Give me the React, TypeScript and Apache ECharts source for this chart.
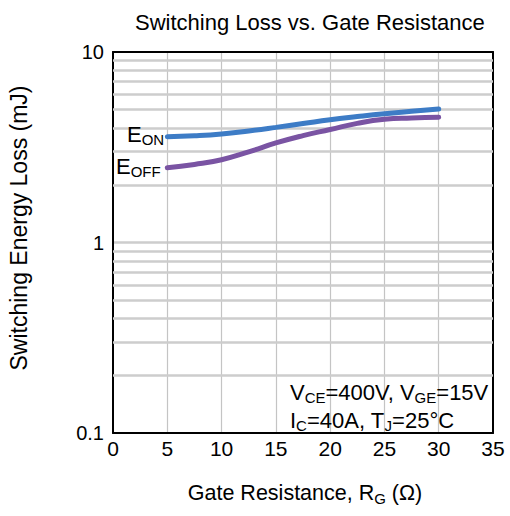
import React, { useEffect, useRef } from "react";
import * as echarts from "echarts";

const RG = [5, 7.5, 10, 12.5, 15, 17.5, 20, 22.5, 25, 27.5, 30];
const E_ON = [3.59, 3.63, 3.71, 3.85, 4.02, 4.21, 4.41, 4.58, 4.74, 4.88, 5.02];
const E_OFF = [2.47, 2.57, 2.72, 2.99, 3.33, 3.64, 3.92, 4.22, 4.43, 4.5, 4.54];
const MINOR_GRID = [0.2, 0.3, 0.4, 0.5, 0.6, 0.7, 0.8, 0.9, 2, 3, 4, 5, 6, 7, 8, 9];
const X_MIN = 0;
const X_MAX = 35;
const X_STEP = 5;
const Y_MIN = 0.1;
const Y_MAX = 10;

const FONT = "'Liberation Sans', Arial, Helvetica, sans-serif";

const sub = { fontSize: 15, fontFamily: FONT, lineHeight: 15, verticalAlign: "bottom", fill: "#000" };

export default function App() {
  const ref = useRef<HTMLDivElement>(null);
  useEffect(() => {
    if (!ref.current) return;
    const chart = echarts.init(ref.current, undefined, { renderer: "svg" });
    const gridLine = { color: "#cdcdcd", width: 2.5 };
    chart.setOption({
      animation: false,
      backgroundColor: "#ffffff",
      textStyle: { fontFamily: FONT, color: "#000" },
      title: {
        text: "Switching Loss vs. Gate Resistance",
        left: 130,
        top: 6,
        textStyle: { fontFamily: FONT, fontSize: 22, fontWeight: "normal", color: "#000" },
      },
      grid: { left: 113, right: 17, top: 52, bottom: 83, containLabel: false },
      xAxis: [
        {
          type: "value",
          min: X_MIN,
          max: X_MAX,
          interval: X_STEP,
          axisLine: { show: true, onZero: false, lineStyle: { color: "#000", width: 2 } },
          axisTick: { show: false },
          axisLabel: { fontSize: 21, color: "#000", margin: 5, fontFamily: FONT },
          splitLine: { show: true, showMinLine: false, showMaxLine: false, lineStyle: { color: "#c4c4c4", width: 1.2 } },
        },
        {
          type: "value",
          position: "top",
          min: X_MIN,
          max: X_MAX,
          interval: X_STEP,
          axisLine: { show: true, onZero: false, lineStyle: { color: "#000", width: 2 } },
          axisTick: { show: false },
          axisLabel: { show: false },
          splitLine: { show: false },
        },
      ],
      yAxis: [
        {
          type: "log",
          logBase: 10,
          min: Y_MIN,
          max: Y_MAX,
          axisLine: { show: true, onZero: false, lineStyle: { color: "#000", width: 2 } },
          axisTick: { show: false },
          axisLabel: {
            fontSize: 20,
            color: "#000",
            margin: 9,
            fontFamily: FONT,
            formatter: (v: number) => String(Number(v.toPrecision(3))),
          },
          splitLine: { show: true, showMinLine: false, showMaxLine: false, lineStyle: gridLine },
          minorTick: { show: false },
          minorSplitLine: { show: false },
        },
        {
          type: "log",
          logBase: 10,
          position: "right",
          min: Y_MIN,
          max: Y_MAX,
          axisLine: { show: true, onZero: false, lineStyle: { color: "#000", width: 2 } },
          axisTick: { show: false },
          axisLabel: { show: false },
          splitLine: { show: false },
        },
      ],
      series: [
        {
          type: "line",
          name: "grid",
          data: [],
          z: 1,
          silent: true,
          markLine: {
            silent: true,
            z: 1,
            symbol: "none",
            label: { show: false },
            lineStyle: { type: "solid", color: "#cdcdcd", width: 2.5 },
            data: MINOR_GRID.map((v) => ({ yAxis: v })),
          },
        },
        {
          type: "line",
          name: "EON",
          data: RG.map((x, i) => [x, E_ON[i]]),
          smooth: 0.5,
          showSymbol: false,
          z: 10,
          lineStyle: { color: "#3d7cc6", width: 5, cap: "round" },
        },
        {
          type: "line",
          name: "EOFF",
          data: RG.map((x, i) => [x, E_OFF[i]]),
          smooth: 0.5,
          showSymbol: false,
          z: 10,
          lineStyle: { color: "#7a54a3", width: 5, cap: "round" },
        },
      ],
      graphic: [
        {
          type: "text",
          z: 100,
          x: 19,
          y: 228,
          rotation: Math.PI / 2,
          style: {
            text: "Switching Energy Loss (mJ)",
            fontSize: 23,
            fontFamily: FONT,
            fill: "#000",
            align: "center",
            verticalAlign: "middle",
          },
        },
        {
          type: "text",
          z: 100,
          x: 305,
          y: 493,
          style: {
            text: "Gate Resistance, R{s|G} (Ω)",
            fontSize: 21.5,
            fontFamily: FONT,
            fill: "#000",
            align: "center",
            verticalAlign: "middle",
            rich: { s: sub },
            lineHeight: 25,
          },
        },
        {
          type: "text",
          z: 100,
          x: 127,
          y: 134,
          style: {
            text: "E{s|ON}",
            fontSize: 22,
            fontFamily: FONT,
            fill: "#000",
            align: "left",
            verticalAlign: "middle",
            lineHeight: 25,
            rich: { s: sub },
          },
        },
        {
          type: "text",
          z: 100,
          x: 116,
          y: 166,
          style: {
            text: "E{s|OFF}",
            fontSize: 22,
            fontFamily: FONT,
            fill: "#000",
            align: "left",
            verticalAlign: "middle",
            lineHeight: 25,
            rich: { s: sub },
          },
        },
        {
          type: "text",
          z: 100,
          x: 290,
          y: 392,
          style: {
            text: "V{s|CE}=400V, V{s|GE}=15V",
            fontSize: 22,
            fontFamily: FONT,
            fill: "#000",
            align: "left",
            verticalAlign: "middle",
            lineHeight: 25,
            rich: { s: sub },
          },
        },
        {
          type: "text",
          z: 100,
          x: 290,
          y: 420,
          style: {
            text: "I{s|C}=40A, T{s|J}=25°C",
            fontSize: 22,
            fontFamily: FONT,
            fill: "#000",
            align: "left",
            verticalAlign: "middle",
            lineHeight: 25,
            rich: { s: sub },
          },
        },
      ],
    });
    return () => chart.dispose();
  }, []);
  return (
    <div
      ref={ref}
      style={{ position: "absolute", left: 0, top: 0, width: 510, height: 516, background: "#fff" }}
    />
  );
}
